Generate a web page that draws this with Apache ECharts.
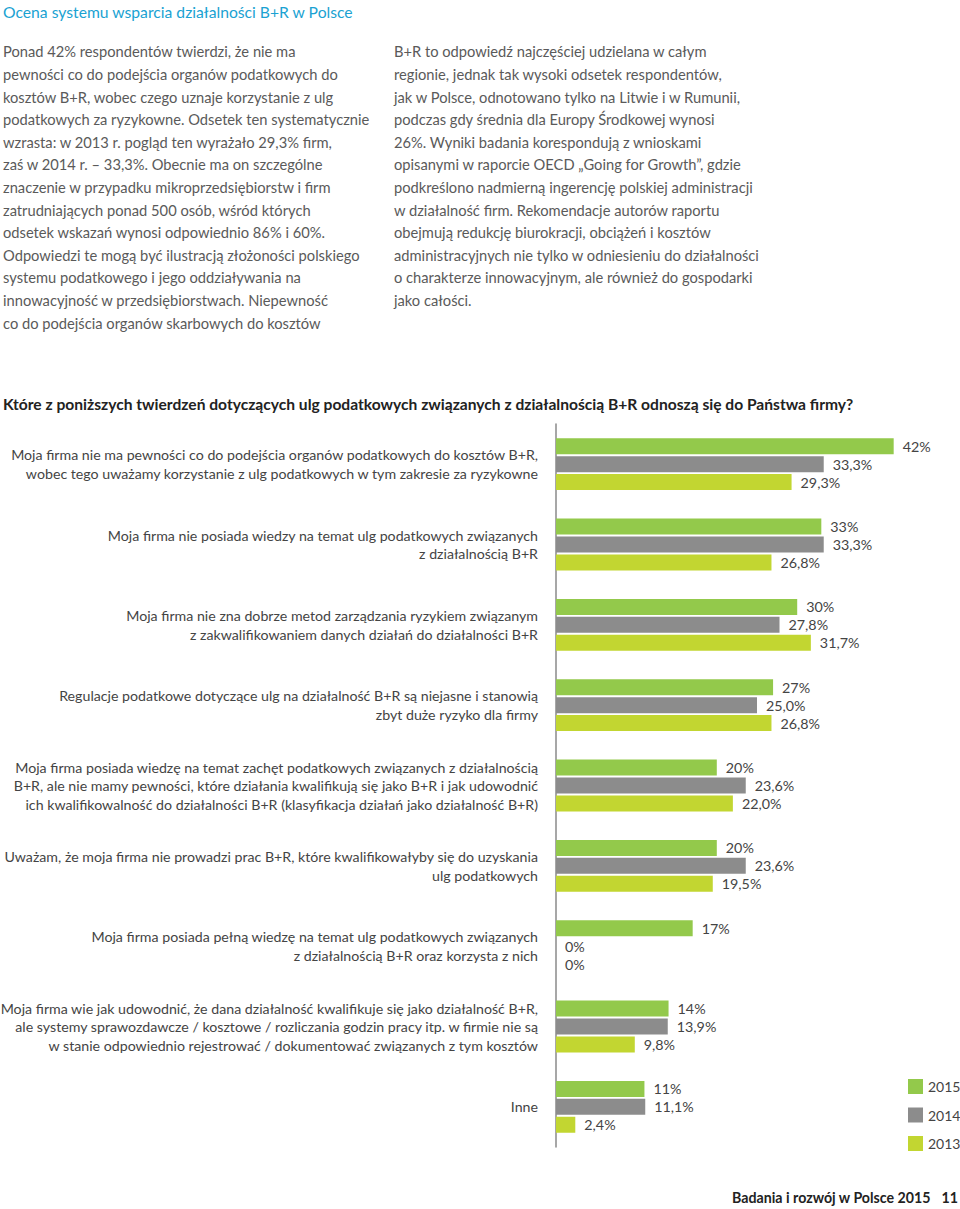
<!DOCTYPE html>
<html>
<head>
    <meta charset="UTF-8">
    <title>Ocena systemu wsparcia działalności B+R w Polsce</title>
    <script src="https://cdn.jsdelivr.net/npm/echarts@6/dist/echarts.min.js"></script>
    <style>
        html, body { margin: 0; padding: 0; background: #fff; }
        #chart { width: 960px; height: 1209px; }
    </style>
</head>
<body>
    <div id="chart"></div>

    <script>
        // pytania (od góry do dołu)
        const categories = [
            'Moja firma nie ma pewności co do podejścia organów podatkowych do kosztów B+R,\nwobec tego uważamy korzystanie z ulg podatkowych w tym zakresie za ryzykowne',
            'Moja firma nie posiada wiedzy na temat ulg podatkowych związanych\nz działalnością B+R',
            'Moja firma nie zna dobrze metod zarządzania ryzykiem związanym\nz zakwalifikowaniem danych działań do działalności B+R',
            'Regulacje podatkowe dotyczące ulg na działalność B+R są niejasne i stanowią\nzbyt duże ryzyko dla firmy',
            'Moja firma posiada wiedzę na temat zachęt podatkowych związanych z działalnością\nB+R, ale nie mamy pewności, które działania kwalifikują się jako B+R i jak udowodnić\nich kwalifikowalność do działalności B+R (klasyfikacja działań jako działalność B+R)',
            'Uważam, że moja firma nie prowadzi prac B+R, które kwalifikowałyby się do uzyskania\nulg podatkowych',
            'Moja firma posiada pełną wiedzę na temat ulg podatkowych związanych\nz działalnością B+R oraz korzysta z nich',
            'Moja firma wie jak udowodnić, że dana działalność kwalifikuje się jako działalność B+R,\nale systemy sprawozdawcze / kosztowe / rozliczania godzin pracy itp. w firmie nie są\nw stanie odpowiednio rejestrować / dokumentować związanych z tym kosztów',
            'Inne'
        ];
        const years = ['2015', '2014', '2013'];
        const values2015 = [42, 33, 30, 27, 20, 20, 17, 14, 11];
        const values2014 = [33.3, 33.3, 27.8, 25.0, 23.6, 23.6, 0, 13.9, 11.1];
        const values2013 = [29.3, 26.8, 31.7, 26.8, 22.0, 19.5, 0, 9.8, 2.4];
        const colors = ['#93c94b', '#8c8c8c', '#c2d631'];

        const titleText = 'Ocena systemu wsparcia działalności B+R w Polsce';
        const leftColumn = [
            'Ponad 42% respondentów twierdzi, że nie ma',
            'pewności co do podejścia organów podatkowych do',
            'kosztów B+R, wobec czego uznaje korzystanie z ulg',
            'podatkowych za ryzykowne. Odsetek ten systematycznie',
            'wzrasta: w 2013 r. pogląd ten wyrażało 29,3% firm,',
            'zaś w 2014 r. – 33,3%. Obecnie ma on szczególne',
            'znaczenie w przypadku mikroprzedsiębiorstw i firm',
            'zatrudniających ponad 500 osób, wśród których',
            'odsetek wskazań wynosi odpowiednio 86% i 60%.',
            'Odpowiedzi te mogą być ilustracją złożoności polskiego',
            'systemu podatkowego i jego oddziaływania na',
            'innowacyjność w przedsiębiorstwach. Niepewność',
            'co do podejścia organów skarbowych do kosztów'
        ];
        const rightColumn = [
            'B+R to odpowiedź najczęściej udzielana w całym',
            'regionie, jednak tak wysoki odsetek respondentów,',
            'jak w Polsce, odnotowano tylko na Litwie i w Rumunii,',
            'podczas gdy średnia dla Europy Środkowej wynosi',
            '26%. Wyniki badania korespondują z wnioskami',
            'opisanymi w raporcie OECD „Going for Growth”, gdzie',
            'podkreślono nadmierną ingerencję polskiej administracji',
            'w działalność firm. Rekomendacje autorów raportu',
            'obejmują redukcję biurokracji, obciążeń i kosztów',
            'administracyjnych nie tylko w odniesieniu do działalności',
            'o charakterze innowacyjnym, ale również do gospodarki',
            'jako całości.'
        ];
        const questionText = 'Które z poniższych twierdzeń dotyczących ulg podatkowych związanych z działalnością B+R odnoszą się do Państwa firmy?';
        const footerText = 'Badania i rozwój w Polsce 2015';
        const pageNumber = '11';

        const FONT = 'Lato, "Open Sans", sans-serif';

        function fmt(v, whole) {
            if (whole || v === 0) return Math.round(v) + '%';
            return v.toFixed(1).replace('.', ',') + '%';
        }

        const chart = echarts.init(document.getElementById('chart'), null, { renderer: 'svg' });

        const seriesData = [values2015, values2014, values2013];

        const option = {
            animation: false,
            textStyle: { fontFamily: FONT },
            grid: { left: 556, top: 424, bottom: 62, right: 2, containLabel: false, outerBoundsMode: 'none' },
            legend: {
                data: years,
                orient: 'vertical',
                left: 903,
                top: 1074,
                itemWidth: 15,
                itemHeight: 15,
                itemGap: 13.5,
                icon: 'rect',
                textStyle: { fontFamily: FONT, fontSize: 14, color: '#444' }
            },
            xAxis: {
                type: 'value',
                min: 0,
                max: 50,
                show: false
            },
            yAxis: {
                type: 'category',
                data: categories,
                inverse: true,
                axisLine: { show: true, lineStyle: { color: '#8a8a8a', width: 1.5 } },
                axisTick: { show: false },
                axisLabel: {
                    margin: 18,
                    fontFamily: FONT,
                    fontSize: 14.2,
                    lineHeight: 18.5,
                    color: '#444',
                    align: 'right'
                }
            },
            series: years.map((y, i) => ({
                name: y,
                type: 'bar',
                data: seriesData[i],
                barWidth: 16,
                barGap: '12%',
                itemStyle: { color: colors[i] },
                label: {
                    show: true,
                    position: 'right',
                    distance: 9,
                    fontFamily: FONT,
                    fontSize: 14.3,
                    color: '#444',
                    formatter: p => fmt(p.value, i === 0)
                }
            })),
            graphic: [
                {
                    type: 'text', left: 3, top: 4,
                    style: { text: titleText, font: '15.7px ' + FONT, fill: '#1aa2d2' }
                },
                {
                    type: 'text', left: 3, top: 40,
                    style: { text: leftColumn.join('\n'), font: '14.7px ' + FONT, lineHeight: 22.6, fill: '#5a5a5a' }
                },
                {
                    type: 'text', left: 394, top: 40,
                    style: { text: rightColumn.join('\n'), font: '14.7px ' + FONT, lineHeight: 22.6, fill: '#5a5a5a' }
                },
                {
                    type: 'text', left: 3, top: 396,
                    style: { text: questionText, font: 'bold 15.6px ' + FONT, fill: '#222' }
                },
                {
                    type: 'text', right: 29, top: 1190,
                    style: { text: footerText, font: 'bold 14.2px ' + FONT, fill: '#222' }
                },
                {
                    type: 'text', right: 2, top: 1190,
                    style: { text: pageNumber, font: 'bold 14.2px ' + FONT, fill: '#222' }
                }
            ]
        };

        chart.setOption(option);
    </script>
</body>
</html>
